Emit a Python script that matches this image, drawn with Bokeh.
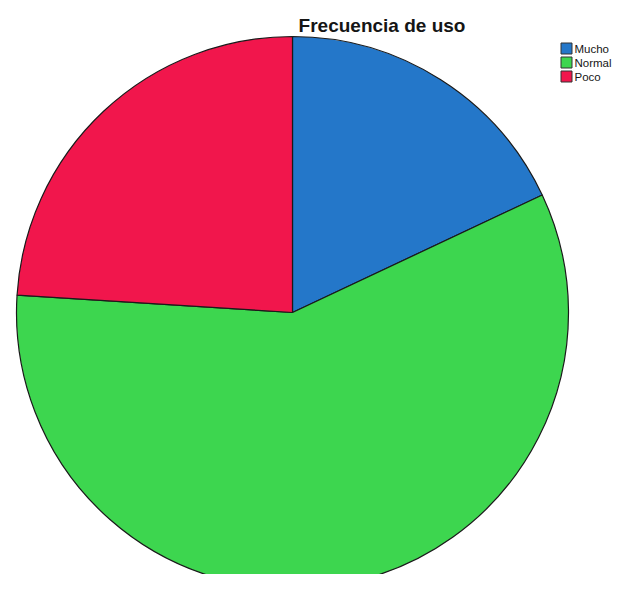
import numpy as np
from bokeh.plotting import figure
from bokeh.models import Range1d, ColumnDataSource
from bokeh.core.properties import value
from bokeh.embed import file_html
from bokeh.resources import INLINE

categories = ["Mucho", "Normal", "Poco"]
percentages = [18, 58, 24]
colors = ["#2477C9", "#3DD64F", "#F1164C"]
title_text = "Frecuencia de uso"

H = 590
p = figure(width=614, height=574, output_backend="svg", toolbar_location=None,
           x_range=Range1d(0, 614), y_range=Range1d(H - 574, H),
           min_border=0, outline_line_color=None)
p.axis.visible = False
p.grid.visible = False
p.background_fill_color = "white"

vals = np.array(percentages, dtype=float)
frac = vals / vals.sum()
cum = np.cumsum(frac)
start = np.pi / 2 - (cum - frac) * 2 * np.pi
end = np.pi / 2 - cum * 2 * np.pi

src = ColumnDataSource(dict(cat=categories, start=start, end=end, color=colors))
cx, cy = 292, H - 312
p.wedge(x=cx, y=cy, radius=276, radius_units="screen", start_angle="start",
        end_angle="end", direction="clock", fill_color="color",
        line_color="#1a1a1a", line_width=1.2, source=src)

# title
p.text(x=[381.5], y=[H - 25], text=[title_text], text_font=value("Liberation Sans"),
       text_font_style="bold", text_font_size="19px", text_align="center",
       text_baseline="middle", text_color="#151515")

# legend
ly = [H - 48, H - 62, H - 76]
p.rect(x=[566] * 3, y=ly, width=11, height=11, width_units="screen",
       height_units="screen", fill_color=colors, line_color="#333333", line_width=1)
p.text(x=[574] * 3, y=ly, text=categories, text_font=value("Liberation Sans"),
       text_font_size="11.5px", text_align="left", text_baseline="middle",
       text_color="#151515")

open("out.html", "w").write(file_html(p, INLINE))
